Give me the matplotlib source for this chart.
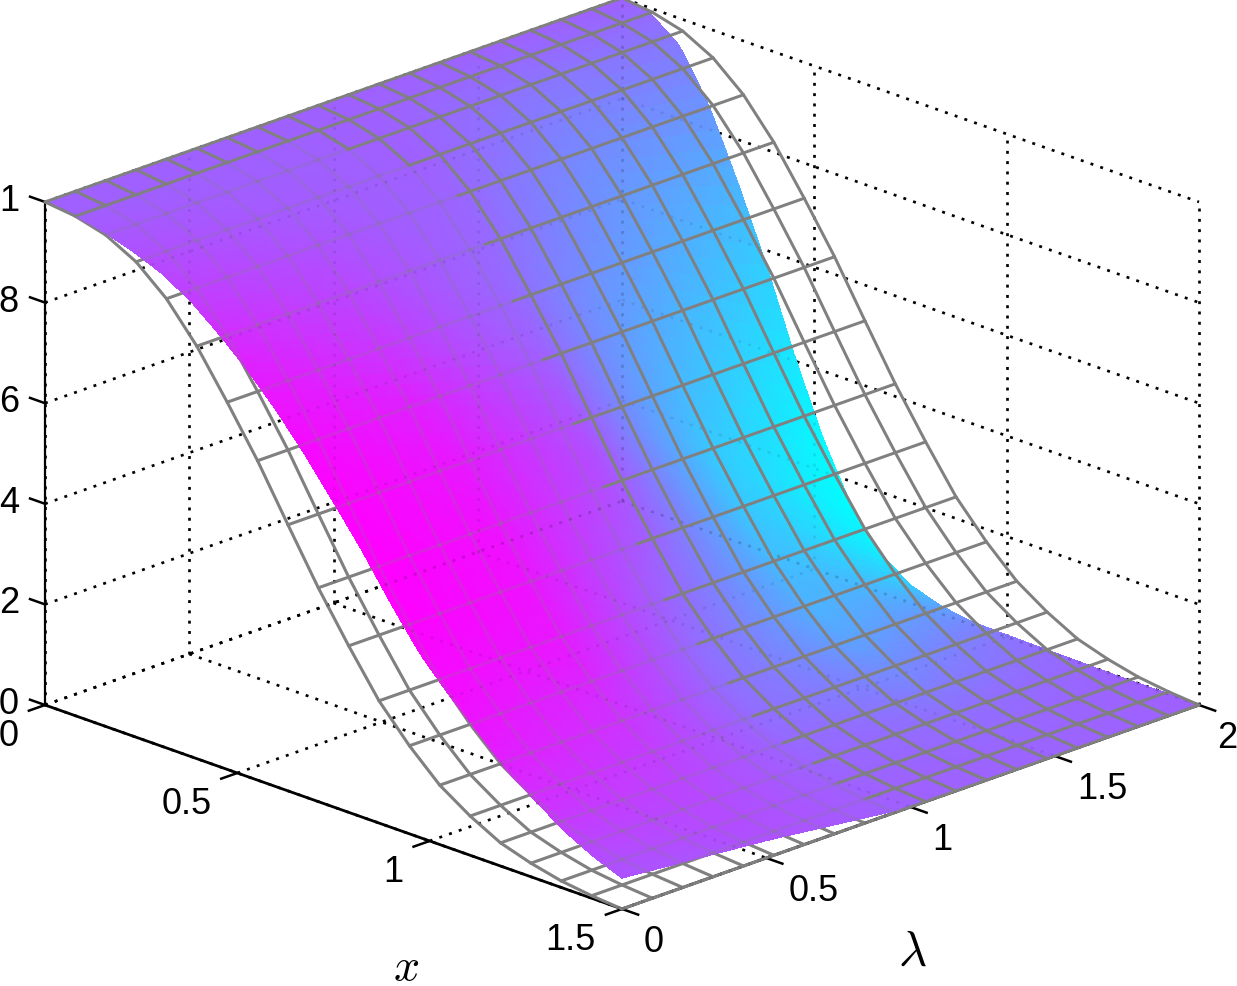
import numpy as np
import matplotlib
matplotlib.use("Agg")
import matplotlib.pyplot as plt
from mpl_toolkits.mplot3d import proj3d
from mpl_toolkits.mplot3d.art3d import Line3DCollection

plt.rcParams['font.family'] = ['Liberation Sans', 'DejaVu Sans']
plt.rcParams['mathtext.fontset'] = 'cm'

W, H, DPI = 1237, 987, 100

x_ticks = [0, 0.5, 1, 1.5]
x_tick_labels = ['0', '0.5', '1', '1.5']
lam_ticks = [0, 0.5, 1, 1.5, 2]
lam_tick_labels = ['0', '0.5', '1', '1.5', '2']
z_ticks = [0, 0.2, 0.4, 0.6, 0.8, 1]
z_tick_labels = ['0', '2', '4', '6', '8', '1']   # the left edge of the picture crops "0."

# grey wire mesh: 20 x 20 nodes, one height profile
mesh_x = [0, .0789, .1579, .2368, .3158, .3947, .4737, .5526, .6316, .7105, .7895, .8684, .9474, 1.0263, 1.1053, 1.1842, 1.2632, 1.3421, 1.4211, 1.5]
mesh_lam = [0, .1053, .2105, .3158, .4211, .5263, .6316, .7368, .8421, .9474, 1.0526, 1.1579, 1.2632, 1.3684, 1.4737, 1.5789, 1.6842, 1.7895, 1.8947, 2]
mesh_z = [1.0, .993, .977, .945, .893, .820, .730, .635, .529, .425, .331, .243, .175, .118, .078, .046, .027, .013, .005, 0]
# lambda at which each constant-x mesh line comes out of the coloured surface
mesh_emerges = [0, 0, .84, .95, 1.01, 1.0, .99, .99, .99, .99, 1.0, .99, 1.0, 1.0, .98, .98, .98, .96, .955, .96]

# coloured surface: heights and colour values by lambda row
surf_x = [0, .075, .15, .225, .3, .375, .45, .525, .6, .675, .75, .825, .9, .975, 1.05, 1.125, 1.2, 1.275, 1.35, 1.425, 1.5]
surf_lam = [0, .5, 1, 1.5, 2]
surf_z_lam0 = [1.0, .994, .983, .965, .942, .908, .862, .81, .75, .682, .607, .53, .445, .366, .305, .25, .195, .155, .115, .085, .062]
surf_z_lam05 = [1.0, .994, .981, .958, .923, .873, .81, .739, .66, .577, .493, .41, .33, .26, .205, .16, .118, .09, .063, .045, .035]
surf_z_lam1 = [1.0, .994, .979, .95, .903, .838, .757, .668, .571, .472, .378, .291, .216, .155, .106, .07, .042, .025, .012, .005, 0]
surf_z_lam15 = [1.0, .991, .962, .899, .809, .704, .581, .464, .358, .274, .207, .154, .111, .08, .055, .036, .022, .013, .006, .003, 0]
surf_z_lam2 = [1.0, .988, .945, .848, .715, .57, .405, .26, .145, .075, .035, .016, .006, .004, .003, .002, .001, 0, 0, 0, 0]

surf_c_lam0 = [.62, .63, .65, .68, .72, .76, .82, .88, .93, .97, .99, 1.0, 1.0, .98, .96, .92, .87, .82, .76, .71, .67]
surf_c_lam05 = [.62, .62, .63, .64, .66, .70, .74, .79, .87, .91, .93, .94, .93, .90, .84, .80, .76, .73, .71, .70, .68]
surf_c_lam1 = [.62, .62, .62, .62, .61, .60, .59, .61, .66, .70, .68, .63, .59, .56, .56, .57, .59, .60, .61, .62, .62]
surf_c_lam15 = [.62, .59, .54, .49, .44, .40, .34, .28, .22, .23, .25, .28, .31, .37, .44, .49, .54, .57, .59, .60, .61]
surf_c_lam2 = [.62, .58, .52, .42, .30, .19, .09, .02, 0, .07, .20, .34, .45, .52, .56, .58, .60, .61, .615, .62, .62]

mx = np.array(mesh_x)
ml = np.array(mesh_lam)
mz = np.array(mesh_z)
sx = np.array(surf_x)
SL = np.array(surf_lam)
SZ = np.array([surf_z_lam0, surf_z_lam05, surf_z_lam1, surf_z_lam15, surf_z_lam2])
SC = np.array([surf_c_lam0, surf_c_lam05, surf_c_lam1, surf_c_lam15, surf_c_lam2])


def resample(table, xq, lq):
    a = np.array([np.interp(xq, sx, row) for row in table])
    return np.array([np.interp(lq, SL, a[:, i]) for i in range(len(xq))])


fig = plt.figure(figsize=(W / DPI, H / DPI), dpi=DPI)
ax = fig.add_axes([0, 0, 1, 1], projection='3d', proj_type='ortho', computed_zorder=False)
ax.view_init(elev=20.7, azim=-45)
ASPECT = (1, 1, 0.659)
ax.set_box_aspect(ASPECT)
ax.set_xlim(0, 1.5, view_margin=0)
ax.set_ylim(0, 2, view_margin=0)
ax.set_zlim(0, 1, view_margin=0)
ax.patch.set_alpha(0)
ax.grid(False)

ax.set_xticks(x_ticks)
ax.set_yticks(lam_ticks)
ax.set_zticks(z_ticks)
ax.set_xticklabels([])
ax.set_yticklabels([])
ax.set_zticklabels([])

for axis, lw in ((ax.xaxis, 2.0), (ax.yaxis, 2.0), (ax.zaxis, 1.6)):
    axis.pane.set_facecolor((1, 1, 1, 0))
    axis.pane.set_edgecolor((1, 1, 1, 0))
    axis.line.set_color('k')
    axis.line.set_linewidth(lw)
    axis._axinfo['tick'].update(inward_factor=0, outward_factor=0, color=(1, 1, 1, 0))
ax.zaxis.set_ticks_position('lower')

# dotted box grid on the floor and on the two back walls
grid_segs = []
for t in x_ticks:
    grid_segs.append([(t, 0, 0), (t, 2, 0)])
    grid_segs.append([(t, 2, 0), (t, 2, 1)])
for t in lam_ticks:
    grid_segs.append([(0, t, 0), (1.5, t, 0)])
    grid_segs.append([(0, t, 0), (0, t, 1)])
for t in z_ticks:
    grid_segs.append([(0, 0, t), (0, 2, t)])
    grid_segs.append([(0, 2, t), (1.5, 2, t)])
DOT = (0, (1.1, 2.8))
GRID_LW = 1.9
ax.add_collection3d(Line3DCollection(grid_segs, colors='k', linewidths=GRID_LW, linestyles=[DOT], zorder=1), autolim=False)

# tick marks
tick_segs = []
for t in x_ticks:
    tick_segs.append([(t, 0, 0), (t, -0.06, 0)])
for t in lam_ticks:
    tick_segs.append([(1.5, t, 0), (1.545, t, 0)])
for t in z_ticks:
    tick_segs.append([(0, 0, t), (-0.042, 0, t)])
ax.add_collection3d(Line3DCollection(tick_segs, colors='k', linewidths=1.8, zorder=1), autolim=False)

# coloured surface, interpolated shading via fine cells
xq = np.linspace(0, 1.5, 85)
lq = np.linspace(0, 2, 85)
Zf = resample(SZ, xq, lq)
Cf = resample(SC, xq, lq)
Cc = 0.25 * (Cf[:-1, :-1] + Cf[1:, :-1] + Cf[:-1, 1:] + Cf[1:, 1:])
face = np.zeros(Cc.shape + (4,))
face[..., 0] = Cc
face[..., 1] = 1 - Cc
face[..., 2] = 1
face[..., 3] = 1
Xf, Lf = np.meshgrid(xq, lq, indexing='ij')
ax.plot_surface(Xf, Lf, Zf, facecolors=face, rcount=85, ccount=85, shade=False,
                linewidth=0.4, antialiased=False, zorder=3)

# grey mesh: pieces under the coloured surface go below it, the rest on top
under, over = [], []
n = len(mx)
for k in range(n):
    b = mesh_emerges[k]
    for j in range(n - 1):
        l0, l1 = ml[j], ml[j + 1]
        if l1 <= b:
            under.append([(mx[k], l0, mz[k]), (mx[k], l1, mz[k])])
        elif l0 >= b:
            over.append([(mx[k], l0, mz[k]), (mx[k], l1, mz[k])])
        else:
            under.append([(mx[k], l0, mz[k]), (mx[k], b, mz[k])])
            over.append([(mx[k], b, mz[k]), (mx[k], l1, mz[k])])
for j in range(n):
    for k in range(n - 1):
        seg = [(mx[k], ml[j], mz[k]), (mx[k + 1], ml[j], mz[k + 1])]
        limit = max(mesh_emerges[k], mesh_emerges[k + 1])
        (over if ml[j] + 0.003 >= limit else under).append(seg)
GREY = '#808080'
MESH_LW = 2.15
ax.add_collection3d(Line3DCollection(under, colors=GREY, linewidths=MESH_LW, zorder=2, capstyle='round'), autolim=False)
# what lies below the translucent surface shows faintly through it
ax.add_collection3d(Line3DCollection(under, colors=GREY, linewidths=MESH_LW, alpha=0.22, zorder=4, capstyle='round'), autolim=False)
ax.add_collection3d(Line3DCollection(grid_segs, colors='k', linewidths=GRID_LW, linestyles=[DOT], alpha=0.09, zorder=4), autolim=False)
ax.add_collection3d(Line3DCollection(over, colors=GREY, linewidths=MESH_LW, zorder=5, capstyle='round'), autolim=False)


def corner_px(x, y, z):
    xs, ys, _ = proj3d.proj_transform(x, y, z, ax.get_proj())
    return ax.transData.transform((xs, ys))


# fit the orthographic box onto the figure: left corner and right corner of the floor
S = 1500.0
zoom = 1.0
l, b = (W - S) / 2, (H - S) / 2
for _ in range(3):
    ax.set_position([l / W, b / H, S / W, S / H])
    ax.set_box_aspect(ASPECT, zoom=zoom)
    ax.apply_aspect()
    pl = corner_px(0, 0, 0)
    pr = corner_px(1.5, 2, 0)
    zoom *= (1199 - 45) / (pr[0] - pl[0])
    ax.set_box_aspect(ASPECT, zoom=zoom)
    pl = corner_px(0, 0, 0)
    l += 45 - pl[0]
    b += (H - 706) - pl[1]
    ax.set_position([l / W, b / H, S / W, S / H])
    ax.apply_aspect()

FS = 26


def label_at(p, lab, dx, dy, ha):
    fig.text((p[0] + dx) / W, (p[1] + dy) / H, lab, fontsize=FS, ha=ha, va='baseline')


for t, lab in zip(x_ticks, x_tick_labels):
    label_at(corner_px(t, 0, 0), lab, -26, -40, 'right')
for t, lab, dx in zip(lam_ticks, lam_tick_labels, [22, 22, 22, 22, 18]):
    label_at(corner_px(1.5, t, 0), lab, dx, -42, 'left')
for t, lab in zip(z_ticks, z_tick_labels):
    label_at(corner_px(0, 0, t), lab, -26, -8, 'right')

fig.text(406 / W, 1 - 980 / H, r'$x$', fontsize=33, ha='center', va='baseline')
fig.text(912 / W, 1 - 965 / H, r'$\lambda$', fontsize=35, ha='center', va='baseline')

fig.savefig('out.png', dpi=DPI)
